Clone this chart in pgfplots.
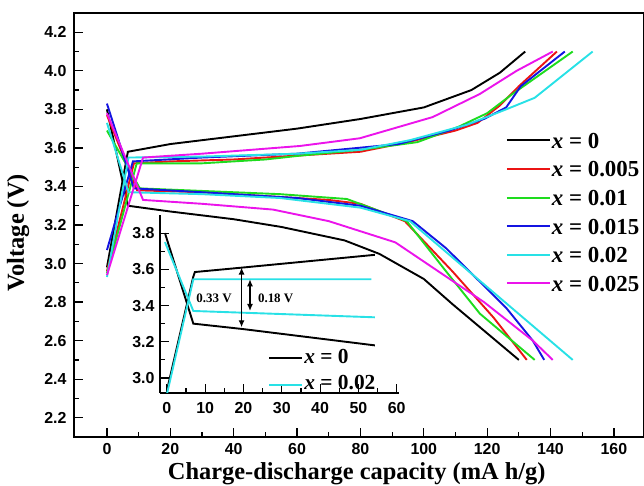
\documentclass[border=0pt]{standalone}
\usepackage{fontspec}
\setmainfont{Liberation Serif}
\setsansfont{Liberation Sans}
\usepackage{pgfplots}
\pgfplotsset{compat=1.18}
\usetikzlibrary{arrows.meta}
\definecolor{cred}{RGB}{235,20,20}
\definecolor{cgreen}{RGB}{30,220,30}
\definecolor{cblue}{RGB}{20,20,225}
\definecolor{ccyan}{RGB}{40,225,230}
\definecolor{cmag}{RGB}{235,20,235}
\newcommand{\tickfont}{\sffamily\bfseries\fontsize{16}{16}\selectfont}
\newcommand{\legfont}{\bfseries\fontsize{23}{23}\selectfont}
\pgfplotsset{
  curve/.style={line width=1.9bp},
  myticks/.style={
    tick align=inside,
    major tick length=9bp,
    minor tick length=5bp,
    every tick/.style={black, line width=1.2bp},
    ticklabel style={font=\tickfont},
    /pgf/number format/assume math mode=true,
    yticklabel style={/pgf/number format/fixed, /pgf/number format/fixed zerofill,
      /pgf/number format/precision=1},
  },
}
\begin{document}
\begin{tikzpicture}
\path[use as bounding box] (0,0) rectangle (644bp,486bp);
\begin{axis}[
    at={(74bp,49bp)}, anchor=south west,
    scale only axis, width=570bp, height=424bp,
    xmin=-10.4, xmax=169.5, ymin=2.1, ymax=4.3,
    xtick={0,20,40,60,80,100,120,140,160},
    ytick={2.2,2.4,2.6,2.8,3.0,3.2,3.4,3.6,3.8,4.0,4.2},
    minor x tick num=1, minor y tick num=1,
    tick pos=left, myticks,
    xticklabel style={yshift=-3bp},
    yticklabel style={xshift=-4bp},
    axis line style={line width=1.6bp},
    xlabel={Charge-discharge capacity (mA h/g)},
    ylabel={Voltage (V)},
    label style={font=\fontsize{24.5}{24.5}\selectfont\bfseries},
    xlabel style={at={(axis description cs:0.496,-0.101)}, anchor=base},
    ylabel style={at={(axis description cs:-0.098,0.481)}, anchor=center, rotate=0},
    legend style={at={(axis description cs:0.752,0.726)}, anchor=north west,
      draw=none, fill=none, font=\legfont, row sep=10.6bp,
      nodes={inner sep=1bp, text height=16bp, text depth=0bp}},
    legend cell align=left,
    legend image code/.code={\draw[#1, line width=2bp] (0bp,0bp) -- (43bp,0bp);},
]
% x = 0
\addplot[curve, black] coordinates {
  (0,3.80) (6.6,3.30) (20,3.27) (40,3.23) (55,3.19) (75,3.12) (86,3.05)
  (100,2.92) (109,2.79) (130,2.50)};
\addplot[curve, black, forget plot] coordinates {
  (0,2.98) (6.6,3.58) (20,3.62) (40,3.66) (60,3.70) (80,3.75) (100,3.81)
  (115,3.90) (124,3.99) (132,4.10)};
% x = 0.005
\addplot[curve, cred] coordinates {
  (0,3.77) (9.5,3.38) (30,3.37) (50,3.35) (70,3.33) (80,3.31) (94,3.22)
  (109,2.96) (122,2.72) (132.5,2.50)};
\addplot[curve, cred, forget plot] coordinates {
  (0,2.96) (8.5,3.52) (20,3.53) (40,3.54) (60,3.56) (80,3.58) (95,3.63)
  (110,3.69) (117,3.73) (124,3.82) (130,3.92) (142,4.10)};
% x = 0.01
\addplot[curve, cgreen] coordinates {
  (0,3.69) (10.4,3.39) (40,3.37) (54.6,3.36) (75.7,3.335) (94.6,3.22)
  (107,2.96) (117.7,2.74) (135,2.50)};
\addplot[curve, cgreen, forget plot] coordinates {
  (0,2.95) (9.4,3.52) (30,3.52) (50,3.54) (61,3.56) (80,3.59) (98,3.63)
  (111,3.71) (120,3.78) (128,3.88) (147,4.10)};
% x = 0.015
\addplot[curve, cblue] coordinates {
  (0,3.83) (8.5,3.39) (30,3.37) (60,3.34) (80,3.30) (96.5,3.22) (107,3.08)
  (126,2.77) (134.4,2.60) (138,2.50)};
\addplot[curve, cblue, forget plot] coordinates {
  (0,3.07) (8.2,3.53) (30,3.55) (60,3.57) (92,3.62) (108,3.69) (119,3.75)
  (126,3.81) (130.6,3.92) (144.5,4.10)};
% x = 0.02
\addplot[curve, ccyan] coordinates {
  (0,3.73) (6.8,3.37) (30,3.36) (54.6,3.34) (80,3.29) (95.6,3.22) (147,2.50)};
\addplot[curve, ccyan, forget plot] coordinates {
  (0,2.93) (6.8,3.55) (30,3.555) (60,3.57) (80,3.59) (95.6,3.64) (113.6,3.72)
  (126,3.80) (135,3.86) (153.3,4.10)};
% x = 0.025
\addplot[curve, cmag] coordinates {
  (0,3.78) (11.4,3.33) (30,3.31) (52.4,3.28) (70,3.22) (91,3.11) (119,2.80)
  (134.4,2.60) (140.7,2.50)};
\addplot[curve, cmag, forget plot] coordinates {
  (0,2.94) (11.4,3.55) (30,3.57) (60.9,3.61) (79.8,3.65) (102.8,3.76)
  (117.7,3.88) (129.3,4.00) (140.7,4.10)};
\legend{\textit{x} = 0, \textit{x} = 0.005, \textit{x} = 0.01, \textit{x} = 0.015,
  \textit{x} = 0.02, \textit{x} = 0.025}
\end{axis}
% inset
\begin{axis}[
    at={(160bp,93bp)}, anchor=south west,
    scale only axis, width=239bp, height=178bp,
    xmin=-1.8, xmax=60.6, ymin=2.917, ymax=3.9,
    axis x line=bottom, axis y line=left,
    axis line style={-, line width=1.6bp},
    xtick={0,10,20,30,40,50,60},
    ytick={3.0,3.2,3.4,3.6,3.8},
    minor x tick num=1, minor y tick num=1,
    myticks,
    xticklabel style={yshift=-6bp},
    yticklabel style={xshift=-2bp},
    legend style={at={(axis description cs:0.44,0.275)}, anchor=north west,
      draw=none, fill=none, font=\bfseries\fontsize{21.5}{21.5}\selectfont,
      row sep=8.5bp,
      nodes={inner sep=1bp, text height=16bp, text depth=0bp}},
    legend cell align=left,
    legend image code/.code={\draw[#1, line width=2bp] (0bp,-3bp) -- (33bp,-3bp);},
]
\addplot[curve, black] coordinates {
  (-0.5,3.80) (6.9,3.30) (19.9,3.27) (54.3,3.18)};
\addplot[curve, black, forget plot] coordinates {
  (0,2.93) (6.9,3.56) (7.3,3.585) (19.9,3.61) (54.3,3.68)};
\addplot[curve, ccyan] coordinates {
  (-0.5,3.75) (6.9,3.37) (54.3,3.335)};
\addplot[curve, ccyan, forget plot] coordinates {
  (0,2.91) (6.9,3.545) (53.4,3.545)};
\draw[{Latex[length=7bp,width=6bp]}-{Latex[length=7bp,width=6bp]}, line width=1.3bp]
  (axis cs:19.5,3.61) -- (axis cs:19.5,3.28);
\draw[{Latex[length=7bp,width=6bp]}-{Latex[length=7bp,width=6bp]}, line width=1.3bp]
  (axis cs:21.7,3.545) -- (axis cs:21.7,3.37);
\node[font=\bfseries\fontsize{13}{13}\selectfont] at (axis cs:12.3,3.44) {0.33 V};
\node[font=\bfseries\fontsize{13}{13}\selectfont] at (axis cs:28.4,3.44) {0.18 V};
\legend{\textit{x} = 0, \textit{x} = 0.02}
\end{axis}
\end{tikzpicture}
\end{document}
